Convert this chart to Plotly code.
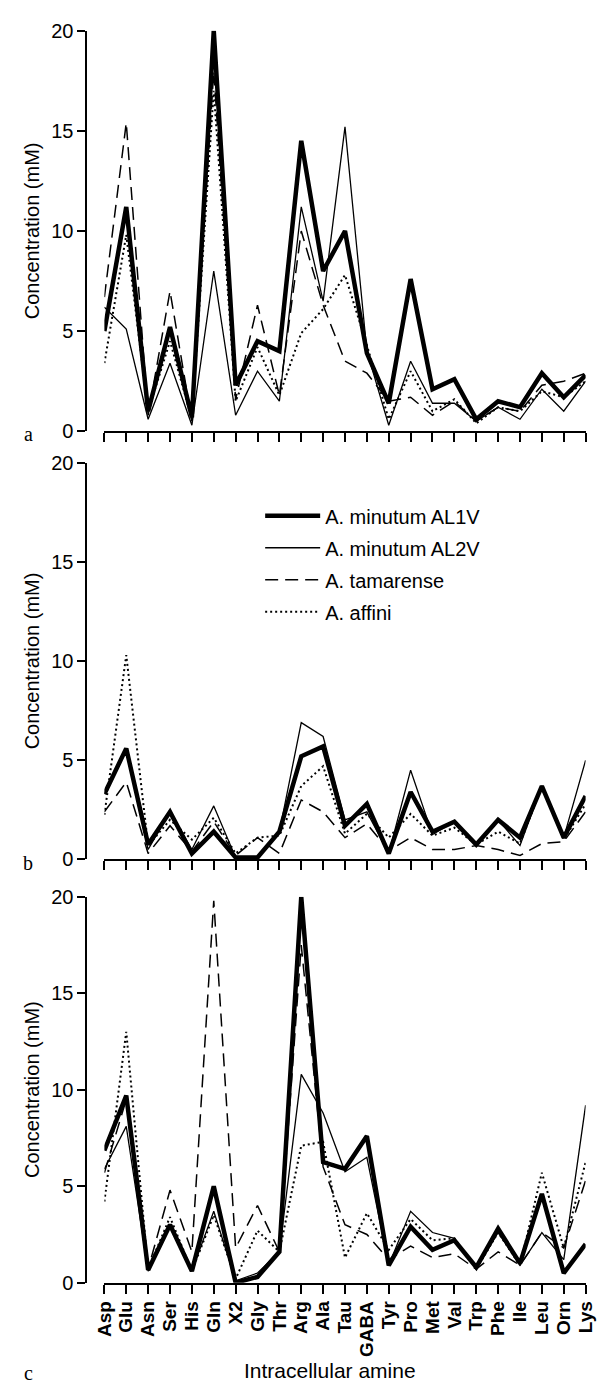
import plotly.graph_objects as go

W, H = 613, 1399

amines = ["Asp", "Glu", "Asn", "Ser", "His", "Gln", "X2", "Gly", "Thr", "Arg", "Ala", "Tau",
          "GABA", "Tyr", "Pro", "Met", "Val", "Trp", "Phe", "Ile", "Leu", "Orn", "Lys"]

series_names = ["A. minutum AL1V", "A. minutum AL2V", "A. tamarense", "A. affini"]

# Panel a
a_al1v = [5.0, 11.2, 1.0, 5.2, 0.7, 20.0, 2.3, 4.5, 4.0, 14.5, 8.0, 10.0, 3.9, 1.4, 7.6, 2.1, 2.6, 0.6, 1.5, 1.2, 2.9, 1.7, 2.8]
a_al2v = [6.2, 5.1, 0.6, 3.4, 0.3, 8.0, 0.8, 3.0, 1.5, 11.2, 6.5, 15.2, 4.0, 0.3, 3.5, 1.4, 1.4, 0.5, 1.2, 0.6, 2.1, 1.0, 2.5]
a_tam = [6.7, 15.4, 0.8, 7.0, 0.5, 18.0, 1.6, 6.3, 1.8, 10.0, 6.3, 3.5, 2.9, 1.5, 1.7, 0.8, 1.5, 0.5, 1.2, 1.0, 2.3, 2.5, 2.9]
a_aff = [3.4, 9.8, 1.0, 4.5, 0.6, 17.0, 1.5, 4.2, 1.8, 4.9, 6.1, 7.8, 4.3, 0.6, 3.0, 1.0, 1.6, 0.4, 1.2, 1.0, 2.0, 1.7, 2.5]

# Panel b
b_al1v = [3.3, 5.6, 0.75, 2.4, 0.3, 1.4, 0.1, 0.1, 1.4, 5.2, 5.7, 1.7, 2.8, 0.3, 3.4, 1.4, 1.9, 0.75, 2.0, 1.1, 3.7, 1.1, 3.2]
b_al2v = [3.3, 5.6, 0.5, 2.4, 0.5, 2.7, 0.1, 0.1, 1.4, 6.9, 6.2, 2.0, 2.4, 0.3, 4.5, 1.25, 1.9, 0.75, 2.0, 0.7, 3.7, 1.1, 5.0]
b_tam = [2.4, 3.9, 0.3, 1.7, 0.4, 1.9, 0.2, 1.1, 0.3, 3.0, 2.4, 1.1, 1.8, 0.45, 1.1, 0.5, 0.5, 0.7, 0.5, 0.2, 0.8, 0.9, 2.4]
b_aff = [2.25, 10.3, 0.7, 2.0, 1.0, 2.1, 0.3, 1.1, 1.2, 3.7, 4.7, 1.3, 2.3, 1.1, 2.3, 1.2, 1.6, 0.75, 1.4, 0.8, 3.7, 1.0, 2.8]

# Panel c
c_al1v = [6.85, 9.7, 0.66, 3.0, 0.6, 5.0, 0.0, 0.3, 1.6, 20.0, 6.25, 5.9, 7.6, 0.9, 2.9, 1.7, 2.2, 0.8, 2.8, 1.0, 4.6, 0.5, 2.0]
c_al2v = [5.9, 8.1, 0.6, 3.0, 0.6, 3.7, 0.1, 0.5, 1.6, 10.8, 8.8, 5.75, 6.5, 0.9, 3.7, 2.6, 2.3, 0.7, 2.6, 0.9, 2.6, 1.2, 9.2]
c_tam = [5.7, 9.5, 0.7, 4.8, 1.6, 19.8, 1.8, 4.0, 1.6, 17.5, 6.0, 3.0, 2.5, 1.2, 1.9, 1.3, 1.5, 0.7, 1.6, 0.9, 2.6, 1.8, 5.3]
c_aff = [4.2, 13.0, 0.7, 3.4, 0.6, 3.5, 0.2, 2.7, 1.6, 7.1, 7.3, 1.3, 3.6, 1.7, 3.3, 2.2, 2.3, 0.7, 2.6, 0.9, 5.7, 1.8, 6.25]

panels = {
    "a": [a_al1v, a_al2v, a_tam, a_aff],
    "b": [b_al1v, b_al2v, b_tam, b_aff],
    "c": [c_al1v, c_al2v, c_tam, c_aff],
}

styles = [
    dict(color="black", width=4.5, dash="solid"),
    dict(color="black", width=1.3, dash="solid"),
    dict(color="black", width=1.5, dash="13px,7px"),
    dict(color="black", width=2.0, dash="2px,3px"),
]

# pixel geometry of panels (top, bottom) in page pixels
panel_px = {"a": (20, 427), "b": (459, 862), "c": (900, 1292)}
axis_ids = {"a": ("x3", "y3"), "b": ("x2", "y2"), "c": ("x", "y")}

fig = go.Figure()

for p, data in panels.items():
    xa, ya = axis_ids[p]
    for i, (name, vals) in enumerate(zip(series_names, data)):
        fig.add_trace(go.Scatter(
            x=amines, y=vals, mode="lines", name=name,
            line=styles[i], xaxis=xa, yaxis=ya,
            legendgroup=name, showlegend=(p == "b"),
        ))

FONT = "Liberation Sans, Arial, sans-serif"
x0, x1 = 96.7 / W, 595.0 / W
ypos = 78.0 / W

layout = dict(
    width=W, height=H,
    margin=dict(l=0, r=0, t=0, b=0),
    paper_bgcolor="white", plot_bgcolor="white",
    font=dict(family=FONT, size=20, color="black"),
    showlegend=True,
    legend=dict(x=258 / W, y=1 - 493 / H, xanchor="left", yanchor="top",
                bgcolor="rgba(0,0,0,0)", font=dict(size=20, family=FONT),
                tracegroupgap=3, itemwidth=55),
)

for p in ["a", "b", "c"]:
    xa, ya = axis_ids[p]
    top, bot = panel_px[p]
    xkey = "xaxis" + xa[1:]
    ykey = "yaxis" + ya[1:]
    layout[xkey] = dict(
        domain=[x0, x1], anchor=ya, type="category", range=[0, 22],
        tickmode="linear", tick0=0, dtick=1,
        showline=True, linecolor="black", linewidth=1.8,
        ticks="outside", ticklen=9, tickwidth=1.5, tickcolor="black",
        showgrid=False, zeroline=False,
        showticklabels=(p == "c"), tickangle=-90, ticklabelstandoff=0,
        tickfont=dict(family="Liberation Sans, Arial", size=19, weight="bold"),
    )
    layout[ykey] = dict(
        domain=[1 - bot / H, 1 - top / H], anchor="free", position=ypos,
        range=[0, 20], tickvals=[0, 5, 10, 15, 20],
        showline=True, linecolor="black", linewidth=1.8,
        ticks="outside", ticklen=8, tickwidth=1.5, tickcolor="black",
        showgrid=False, zeroline=False,
        tickfont=dict(family=FONT, size=20),
    )

fig.update_layout(**layout)

annotations = []
for p in ["a", "b", "c"]:
    top, bot = panel_px[p]
    annotations.append(dict(
        text="Concentration (mM)", textangle=-90, xref="paper", yref="paper",
        x=22 / W, y=1 - (top + bot) / 2 / H, showarrow=False,
        font=dict(family=FONT, size=20), xanchor="center", yanchor="middle"))

for lab, yy in [("a", 430), ("b", 866), ("c", 1384)]:
    annotations.append(dict(
        text=lab, xref="paper", yref="paper", x=18 / W, y=1 - yy / H,
        showarrow=False, font=dict(family="Liberation Serif, Times New Roman, serif", size=20),
        xanchor="center", yanchor="middle"))

annotations.append(dict(
    text="Intracellular amine", xref="paper", yref="paper",
    x=330 / W, y=1 - 1381 / H, showarrow=False,
    font=dict(family=FONT, size=21), xanchor="center", yanchor="middle"))

fig.update_layout(annotations=annotations)

fig.write_html("out.html")
